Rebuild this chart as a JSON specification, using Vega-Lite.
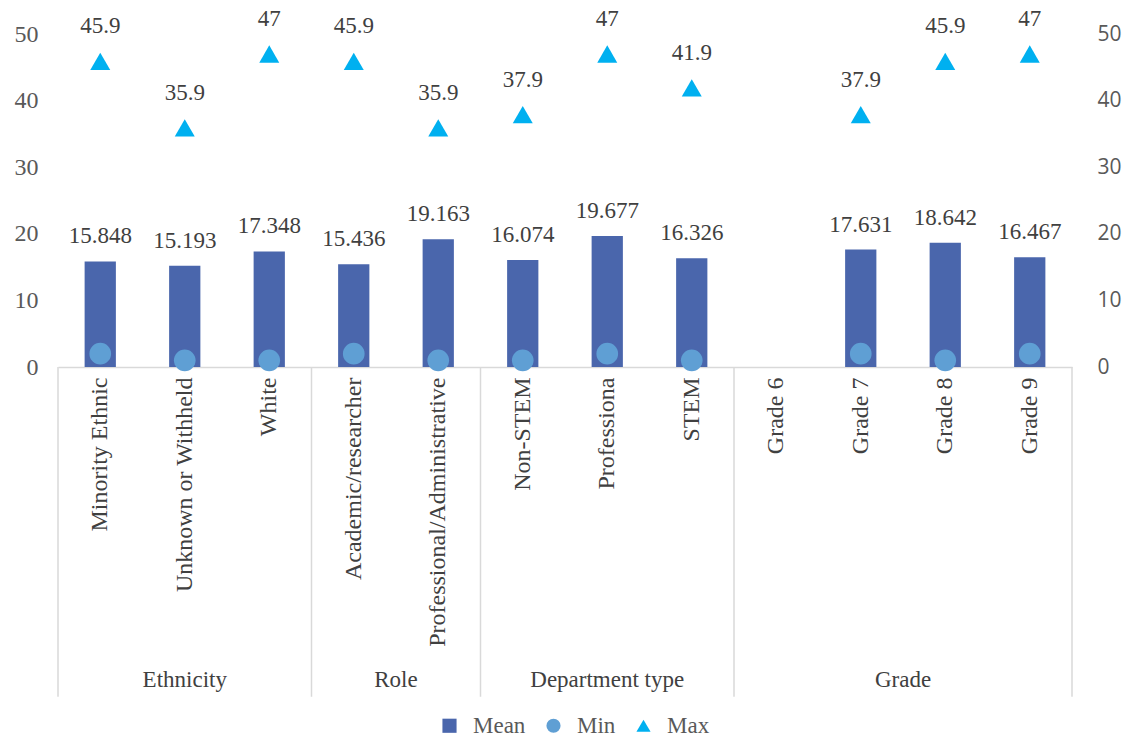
{
  "$schema": "https://vega.github.io/schema/vega-lite/v6.json",
  "width": 1014,
  "height": 333,
  "autosize": "none",
  "padding": {"left": 58, "top": 34, "right": 54, "bottom": 375},
  "background": "white",
  "config": {
    "view": {"stroke": null},
    "font": "Liberation Serif"
  },
  "datasets": {
    "main": [
      {"cat": "Minority Ethnic", "group": "Ethnicity", "mean": 15.848, "min": 2, "max": 45.9},
      {"cat": "Unknown or Withheld", "group": "Ethnicity", "mean": 15.193, "min": 1, "max": 35.9},
      {"cat": "White", "group": "Ethnicity", "mean": 17.348, "min": 1, "max": 47},
      {"cat": "Academic/researcher", "group": "Role", "mean": 15.436, "min": 2, "max": 45.9},
      {"cat": "Professional/Administrative", "group": "Role", "mean": 19.163, "min": 1, "max": 35.9},
      {"cat": "Non-STEM", "group": "Department type", "mean": 16.074, "min": 1, "max": 37.9},
      {"cat": "Professiona", "group": "Department type", "mean": 19.677, "min": 2, "max": 47},
      {"cat": "STEM", "group": "Department type", "mean": 16.326, "min": 1, "max": 41.9},
      {"cat": "Grade 6", "group": "Grade", "mean": null, "min": null, "max": null},
      {"cat": "Grade 7", "group": "Grade", "mean": 17.631, "min": 2, "max": 37.9},
      {"cat": "Grade 8", "group": "Grade", "mean": 18.642, "min": 1, "max": 45.9},
      {"cat": "Grade 9", "group": "Grade", "mean": 16.467, "min": 2, "max": 47}
    ],
    "groups": [
      {"name": "Ethnicity", "pos": 1.5},
      {"name": "Role", "pos": 4},
      {"name": "Department type", "pos": 6.5},
      {"name": "Grade", "pos": 10}
    ],
    "seps": [{"sep": 0}, {"sep": 3}, {"sep": 5}, {"sep": 8}, {"sep": 12}]
  },
  "resolve": {"scale": {"x": "independent", "y": "independent"}, "axis": {"x": "independent", "y": "independent"}},
  "layer": [
    {
      "data": {"name": "main"},
      "mark": {"type": "bar", "width": {"band": 0.37}, "color": "#4a66ac"},
      "encoding": {
        "x": {
          "field": "cat", "type": "nominal",
          "sort": ["Minority Ethnic","Unknown or Withheld","White","Academic/researcher","Professional/Administrative","Non-STEM","Professiona","STEM","Grade 6","Grade 7","Grade 8","Grade 9"],
          "scale": {"paddingInner": 0, "paddingOuter": 0},
          "axis": {
            "title": null, "labelAngle": -90, "labelAlign": "right", "labelBaseline": "middle",
            "labelFont": "Liberation Serif", "labelFontSize": 24, "labelColor": "#404040",
            "labelPadding": 10, "ticks": false, "domainColor": "#d9d9d9", "domainWidth": 1.5,
            "labelLimit": 400
          }
        },
        "y": {
          "field": "mean", "type": "quantitative",
          "scale": {"domain": [0, 50], "nice": false},
          "axis": {
            "title": null, "values": [0, 10, 20, 30, 40, 50], "grid": false, "domain": false, "ticks": false,
            "labelFont": "Liberation Serif", "labelFontSize": 24, "labelColor": "#595959", "labelPadding": 20
          }
        },
        "color": {
          "datum": "Mean", "type": "nominal",
          "scale": {"domain": ["Mean", "Min", "Max"], "range": ["#4a66ac", "#5f9fd4", "#00b0f0"]},
          "legend": {
            "title": null, "orient": "none", "legendX": 380, "legendY": 680, "direction": "horizontal",
            "labelFont": "Liberation Serif", "labelFontSize": 23, "labelColor": "#595959",
            "symbolSize": 200, "columnPadding": 16, "labelOffset": 12
          }
        }
      }
    },
    {
      "data": {"name": "main"},
      "mark": {"type": "point", "filled": true, "size": 470, "opacity": 1},
      "encoding": {
        "x": {"field": "cat", "type": "nominal", "sort": ["Minority Ethnic","Unknown or Withheld","White","Academic/researcher","Professional/Administrative","Non-STEM","Professiona","STEM","Grade 6","Grade 7","Grade 8","Grade 9"], "scale": {"paddingInner": 0, "paddingOuter": 0}, "axis": null},
        "y": {"field": "min", "type": "quantitative", "scale": {"domain": [0, 50], "nice": false}, "axis": null},
        "color": {"datum": "Min", "type": "nominal"},
        "shape": {"datum": "Min", "type": "nominal", "scale": {"domain": ["Mean", "Min", "Max"], "range": ["square", "circle", "triangle-up"]}}
      }
    },
    {
      "data": {"name": "main"},
      "mark": {"type": "point", "filled": true, "size": 400, "opacity": 1},
      "encoding": {
        "x": {"field": "cat", "type": "nominal", "sort": ["Minority Ethnic","Unknown or Withheld","White","Academic/researcher","Professional/Administrative","Non-STEM","Professiona","STEM","Grade 6","Grade 7","Grade 8","Grade 9"], "scale": {"paddingInner": 0, "paddingOuter": 0}, "axis": null},
        "y": {
          "field": "max", "type": "quantitative", "scale": {"domain": [0, 50], "nice": false},
          "axis": {
            "title": null, "orient": "right", "values": [0, 10, 20, 30, 40, 50], "grid": false, "domain": false, "ticks": false,
            "labelFont": "Open Sans", "labelFontSize": 21, "labelColor": "#595959", "labelPadding": 25
          }
        },
        "color": {"datum": "Max", "type": "nominal"},
        "shape": {"datum": "Max", "type": "nominal"}
      }
    },
    {
      "data": {"name": "main"},
      "mark": {"type": "text", "dy": -25, "font": "Liberation Serif", "fontSize": 23, "color": "#404040", "baseline": "middle"},
      "encoding": {
        "x": {"field": "cat", "type": "nominal", "sort": ["Minority Ethnic","Unknown or Withheld","White","Academic/researcher","Professional/Administrative","Non-STEM","Professiona","STEM","Grade 6","Grade 7","Grade 8","Grade 9"], "scale": {"paddingInner": 0, "paddingOuter": 0}, "axis": null},
        "y": {"field": "mean", "type": "quantitative", "scale": {"domain": [0, 50], "nice": false}, "axis": null},
        "text": {"field": "mean", "type": "quantitative", "format": ".3f"}
      }
    },
    {
      "data": {"name": "main"},
      "mark": {"type": "text", "dy": -35, "font": "Liberation Serif", "fontSize": 23, "color": "#404040", "baseline": "middle"},
      "encoding": {
        "x": {"field": "cat", "type": "nominal", "sort": ["Minority Ethnic","Unknown or Withheld","White","Academic/researcher","Professional/Administrative","Non-STEM","Professiona","STEM","Grade 6","Grade 7","Grade 8","Grade 9"], "scale": {"paddingInner": 0, "paddingOuter": 0}, "axis": null},
        "y": {"field": "max", "type": "quantitative", "scale": {"domain": [0, 50], "nice": false}, "axis": null},
        "text": {"field": "max", "type": "quantitative"}
      }
    },
    {
      "data": {"name": "seps"},
      "mark": {"type": "rule", "color": "#d9d9d9", "strokeWidth": 1.5},
      "encoding": {
        "x": {"field": "sep", "type": "quantitative", "scale": {"domain": [0, 12], "nice": false, "zero": false}, "axis": null},
        "y": {"datum": 0, "type": "quantitative", "scale": {"domain": [0, 50], "nice": false}, "axis": null},
        "y2": {"datum": -49.5}
      }
    },
    {
      "data": {"name": "groups"},
      "mark": {"type": "text", "font": "Liberation Serif", "fontSize": 23, "color": "#404040", "baseline": "middle"},
      "encoding": {
        "x": {"field": "pos", "type": "quantitative", "scale": {"domain": [0, 12], "nice": false, "zero": false}, "axis": null},
        "y": {"datum": -47, "type": "quantitative", "scale": {"domain": [0, 50], "nice": false}, "axis": null},
        "text": {"field": "name", "type": "nominal"}
      }
    }
  ]
}
